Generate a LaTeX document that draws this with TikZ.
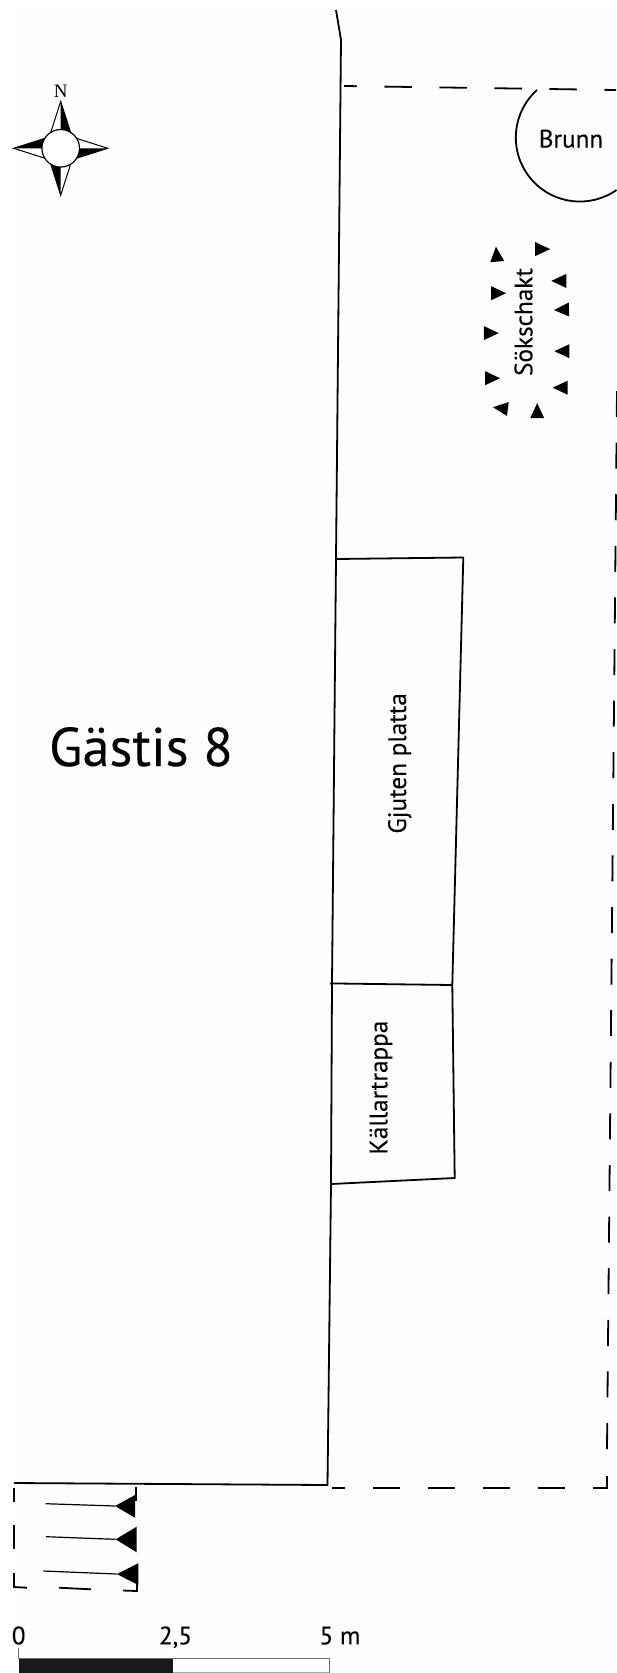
\documentclass[tikz,border=0pt]{standalone}
\usepackage{fontspec}
\setmainfont[FakeBold=0.12]{PT Sans}
\newfontfamily\compassfont{Liberation Serif}
\definecolor{paper}{HTML}{FEFEFD}
\definecolor{tickgray}{HTML}{707070}
\tikzset{
    wall/.style={line width=1.8pt, black},
    dashwall/.style={line width=1.8pt, black, dash pattern=on 27.5pt off 27.5pt},
    smalltext/.style={inner sep=0pt, font=\fontsize{25.2}{25}\selectfont, anchor=base, text=black},
}
\begin{document}
\begin{tikzpicture}[x=1pt,y=-1pt]
\useasboundingbox (0,0) rectangle (616,1673);
\fill[paper] (12,10) rectangle (616,1673);

% main boundary
\draw[wall] (336,10) -- (341,40) -- (336,559) -- (332,983) -- (331,1184) -- (327.5,1485) -- (14,1483);

% dashed boundary
\draw[dashwall, dash phase=14.5pt] (332,1488) -- (592.5,1488);
\draw[wall] (592.5,1488) -- (607,1488) -- (607,1476);
\draw[wall, dash pattern=on 26pt off 25.6pt] (607,1449) -- (617,390);
\draw[dashwall, dash phase=14.5pt] (344,86) -- (616,90);

% Brunn
\draw[wall] (537,90) arc (228:55:64);
\node[smalltext] (brunn) at (571,147.5) {Brunn};

% Sokschakt
\foreach \x/\y/\a in {496.8/256.6/95, 540.2/249.1/0, 561.3/280.9/180, 564/309.7/182,
    564.4/351.2/180, 562.6/387.7/180, 496.1/293.2/0, 488.8/333.1/0, 490.1/378.2/0,
    502.9/408.4/173, 537.2/413.2/90} {
    \fill[shift={(\x,\y)},rotate=\a] (10,0) -- (-5,7) -- (-5,-7) -- cycle;
}
\node[smalltext, rotate=90] (sokschakt) at (532.3,322) {Sökschakt};

% Gjuten platta
\draw[wall] (336,559) -- (463.3,557.5) -- (452.3,985) -- (330,983.4);
\node[smalltext, rotate=90] (platta) at (406,763.4) {Gjuten platta};

% Kallartrappa
\draw[wall] (452.3,985) -- (454.7,1178) -- (331,1184);
\node[smalltext, rotate=90] (trappa) at (387.3,1087.6) {Källartrappa};

% Gastis 8
\node[smalltext, font=\fontsize{54.6}{54}\selectfont] (gastis) at (141,766) {Gästis 8};

% compass
\begin{scope}[shift={(60.7,148.3)}]
\foreach \a in {0,90,180,270} {
    \draw[line width=1pt, fill=white, rotate=\a] (47,0) -- (14,-10.5) -- (14,10.5) -- cycle;
    \fill[rotate=\a] (47,0) -- (14,0) -- (14,10.5) -- cycle;
}
\draw[line width=1.2pt, fill=white] (0,0) circle (18.8);
\end{scope}
\node[inner sep=0pt, anchor=base, font=\compassfont\fontsize{19}{19}\selectfont] (north) at (60.7,97) {N};

% area bottom left
\draw[wall] (14,1488) -- (14,1502);
\draw[wall] (14,1525) -- (14,1549);
\draw[wall] (14,1573) -- (14,1587) -- (27,1587.7);
\draw[wall] (59,1587.7) -- (91,1589.3);
\draw[wall] (123,1590.5) -- (137,1591) -- (137,1582);
\draw[wall] (136,1487) -- (136,1501);
\foreach \x/\y/\tx/\ty/\bx/\bt/\bb in {45.7/1503.7/115/1506/135/1495/1517.7,
    46/1536.7/115.7/1539.3/136.7/1526.7/1552.3,
    43.3/1571/116.7/1574/138.3/1563.3/1585} {
    \draw[line width=1.2pt] (\x,\y) -- (\tx,\ty);
    \fill (\tx,\ty) -- (\bx,\bt) -- (\bx,\bb) -- cycle;
}

% scale
\fill[black!90] (18.9,1658) rectangle (172.9,1673);
\draw[tickgray, line width=1pt] (18.9,1648) -- (18.9,1658) -- (329.3,1658) -- (329.3,1673);
\draw[tickgray!60, line width=1pt] (172.9,1672.6) -- (329.3,1672.6);
\node[smalltext] (zero) at (18.7,1644.3) {0};
\node[smalltext] (mid) at (175.5,1644.3) {2,5};
\node[smalltext] (five) at (340,1644.3) {5 m};
\end{tikzpicture}
\end{document}
